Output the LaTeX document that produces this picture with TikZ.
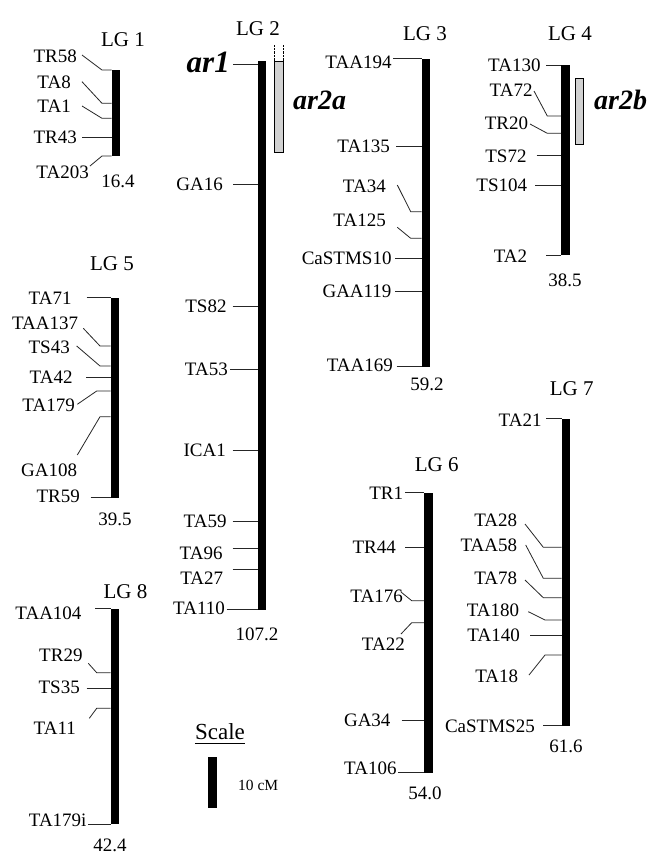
\documentclass[tikz,border=0pt]{standalone}
\usepackage{fontspec}
\setmainfont{Liberation Serif}
\begin{document}
\begin{tikzpicture}[x=1pt,y=-1pt,
 lbl/.style={anchor=east,inner sep=0pt,font=\fontsize{19}{20}\selectfont},
 ttl/.style={inner sep=0pt,font=\fontsize{21}{22}\selectfont},
 len/.style={inner sep=0pt,font=\fontsize{19}{20}\selectfont},
 bar/.style={fill=black,draw=none,inner sep=0pt,minimum width=8.5pt,anchor=north west},
 mk/.style={line width=0.8pt,black!85},
 qtl/.style={draw=black,line width=0.6pt,fill=black!18,inner sep=0pt,minimum width=8.5pt,anchor=north west},
 qlbl/.style={inner sep=0pt,font=\fontsize{28}{30}\selectfont\bfseries\itshape}]
\useasboundingbox[fill=white] (0,0) rectangle (658,860);

% ---------- LG 1 ----------
\node[ttl] (t1) at (123,40) {LG 1};
\node[bar,minimum height=86.5pt] (b1) at (111.5,69.5) {};
\node[lbl] (m1a) at (77,56.7) {TR58};
\node[lbl] (m1b) at (71,82.7) {TA8};
\node[lbl] (m1c) at (71,106) {TA1};
\node[lbl] (m1d) at (77,137.7) {TR43};
\node[lbl] (m1e) at (89,172.7) {TA203};
\node[len] (l1) at (118,181.7) {16.4};
\draw[mk] (82,55) -- (102,70) -- (b1.west |- 0,70);
\draw[mk] (82,81.7) -- (102,103.3) -- (b1.west |- 0,103.3);
\draw[mk] (82,106) -- (102,118.3) -- (b1.west |- 0,118.3);
\draw[mk] (82,137.7) -- (b1.west |- 0,137.7);
\draw[mk] (90,166) -- (102,156) -- (b1.west |- 0,156);

% ---------- LG 2 ----------
\node[ttl] (t2) at (258,29) {LG 2};
\node[bar,minimum height=549.3pt] (b2) at (257.5,60.7) {};
\node[qlbl,anchor=east,font=\fontsize{31}{32}\selectfont\bfseries\itshape] (ar1) at (230,62) {ar1};
\draw[mk] (233,64.3) -- (b2.west |- 0,64.3);
\node[qtl,minimum height=91.3pt] (q2a) at (274,60.7) {};
\draw[densely dotted,line width=0.4pt] (q2a.north west) -- ++(0,-15.7);
\draw[densely dotted,line width=0.4pt] (q2a.north east) -- ++(0,-15.7);
\node[qlbl,anchor=west] (ar2a) at (293,100) {ar2a};
\node[lbl] (m2a) at (223,184) {GA16};
\node[lbl] (m2b) at (226.7,306) {TS82};
\node[lbl] (m2c) at (228,369) {TA53};
\node[lbl] (m2d) at (226,450.7) {ICA1};
\node[lbl] (m2e) at (226.7,521.7) {TA59};
\node[lbl] (m2f) at (222.7,553) {TA96};
\node[lbl] (m2g) at (223.3,578) {TA27};
\node[lbl] (m2h) at (225,608) {TA110};
\node[len] (l2) at (257,634) {107.2};
\draw[mk] (233,184) -- (b2.west |- 0,184);
\draw[mk] (232.7,306) -- (b2.west |- 0,306);
\draw[mk] (230,369) -- (b2.west |- 0,369);
\draw[mk] (232.7,450.7) -- (b2.west |- 0,450.7);
\draw[mk] (232.7,521.7) -- (b2.west |- 0,521.7);
\draw[mk] (232.7,548.3) -- (b2.west |- 0,548.3);
\draw[mk] (232.7,569.3) -- (b2.west |- 0,569.3);
\draw[mk] (226.7,609.3) -- (b2.west |- 0,609.3);

% ---------- LG 3 ----------
\node[ttl] (t3) at (425,34) {LG 3};
\node[bar,minimum height=308.4pt] (b3) at (421.7,58.3) {};
\node[lbl] (m3a) at (391.7,62) {TAA194};
\node[lbl] (m3b) at (390,146) {TA135};
\node[lbl] (m3c) at (386,186) {TA34};
\node[lbl] (m3d) at (386,220) {TA125};
\node[lbl] (m3e) at (391.7,258.3) {CaSTMS10};
\node[lbl] (m3f) at (391.7,291.7) {GAA119};
\node[lbl] (m3g) at (393,365) {TAA169};
\node[len] (l3) at (427,384) {59.2};
\draw[mk] (393.3,58.3) -- (b3.west |- 0,58.3);
\draw[mk] (396,146) -- (b3.west |- 0,146);
\draw[mk] (397.3,185) -- (410.7,211.7) -- (b3.west |- 0,211.7);
\draw[mk] (397.3,227.3) -- (410.7,238.3) -- (b3.west |- 0,238.3);
\draw[mk] (395,258.3) -- (b3.west |- 0,258.3);
\draw[mk] (395,291.7) -- (b3.west |- 0,291.7);
\draw[mk] (396.7,366.7) -- (b3.west |- 0,366.7);

% ---------- LG 4 ----------
\node[ttl] (t4) at (570,34) {LG 4};
\node[bar,minimum height=190pt] (b4) at (561,65) {};
\node[qtl,minimum height=66.3pt] (q2b) at (574.5,77.7) {};
\node[qlbl,anchor=west] (ar2b) at (594,100) {ar2b};
\node[lbl] (m4a) at (540.7,65) {TA130};
\node[lbl] (m4b) at (532.7,90) {TA72};
\node[lbl] (m4c) at (528.3,123.3) {TR20};
\node[lbl] (m4d) at (526.7,156.7) {TS72};
\node[lbl] (m4e) at (527.3,185) {TS104};
\node[lbl] (m4f) at (527.3,256.7) {TA2};
\node[len] (l4) at (565,280) {38.5};
\draw[mk] (546,65) -- (b4.west |- 0,65);
\draw[mk] (534,91) -- (547.3,116) -- (b4.west |- 0,116);
\draw[mk] (530,124) -- (547.3,133.3) -- (b4.west |- 0,133.3);
\draw[mk] (536.7,155) -- (b4.west |- 0,155);
\draw[mk] (535,185) -- (b4.west |- 0,185);
\draw[mk] (546,255) -- (b4.west |- 0,255);

% ---------- LG 5 ----------
\node[ttl] (t5) at (112,263.3) {LG 5};
\node[bar,minimum height=200pt] (b5) at (110.5,297.3) {};
\node[lbl] (m5a) at (71.7,298.3) {TA71};
\node[lbl] (m5b) at (78.3,323.3) {TAA137};
\node[lbl] (m5c) at (70,347.3) {TS43};
\node[lbl] (m5d) at (72.7,377.7) {TA42};
\node[lbl] (m5e) at (75,405) {TA179};
\node[lbl] (m5f) at (77.3,470) {GA108};
\node[lbl] (m5g) at (80,496.7) {TR59};
\node[len] (l5) at (115,519) {39.5};
\draw[mk] (86.7,297.3) -- (b5.west |- 0,297.3);
\draw[mk] (83.3,328.3) -- (100,346) -- (b5.west |- 0,346);
\draw[mk] (76.7,346) -- (100,366) -- (b5.west |- 0,366);
\draw[mk] (86,377.7) -- (b5.west |- 0,377.7);
\draw[mk] (77.3,404.3) -- (96.7,391) -- (b5.west |- 0,391);
\draw[mk] (77.3,455) -- (100,416.7) -- (b5.west |- 0,416.7);
\draw[mk] (90.7,497.3) -- (b5.west |- 0,497.3);

% ---------- LG 6 ----------
\node[ttl] (t6) at (436.7,465) {LG 6};
\node[bar,minimum height=280pt] (b6) at (424,492.7) {};
\node[lbl] (m6a) at (403.3,493.3) {TR1};
\node[lbl] (m6b) at (396,547.3) {TR44};
\node[lbl] (m6c) at (403,596) {TA176};
\node[lbl] (m6d) at (405,644) {TA22};
\node[lbl] (m6e) at (390.7,720) {GA34};
\node[lbl] (m6f) at (396.7,768.3) {TA106};
\node[len] (l6) at (425,793) {54.0};
\draw[mk] (405,492.7) -- (b6.west |- 0,492.7);
\draw[mk] (405,547.3) -- (b6.west |- 0,547.3);
\draw[mk] (401,592) -- (411.7,600.7) -- (b6.west |- 0,600.7);
\draw[mk] (401,634) -- (411.7,622.7) -- (b6.west |- 0,622.7);
\draw[mk] (401.7,720.7) -- (b6.west |- 0,720.7);
\draw[mk] (398.3,772.7) -- (b6.west |- 0,772.7);

% ---------- LG 7 ----------
\node[ttl] (t7) at (571.7,388.3) {LG 7};
\node[bar,minimum height=307.7pt] (b7) at (561.7,418.3) {};
\node[lbl] (m7a) at (541.7,420) {TA21};
\node[lbl] (m7b) at (517.3,520.7) {TA28};
\node[lbl] (m7c) at (517.3,545) {TAA58};
\node[lbl] (m7d) at (517.3,578.3) {TA78};
\node[lbl] (m7e) at (519.3,610.7) {TA180};
\node[lbl] (m7f) at (520,635) {TA140};
\node[lbl] (m7g) at (518.3,676.7) {TA18};
\node[lbl] (m7h) at (535,726) {CaSTMS25};
\node[len] (l7) at (566,746) {61.6};
\draw[mk] (546,418.3) -- (b7.west |- 0,418.3);
\draw[mk] (525,524) -- (543.3,547.3) -- (b7.west |- 0,547.3);
\draw[mk] (525.7,545) -- (543.3,578.3) -- (b7.west |- 0,578.3);
\draw[mk] (525,580) -- (543.3,597.7) -- (b7.west |- 0,597.7);
\draw[mk] (528.3,611.7) -- (545,620) -- (b7.west |- 0,620);
\draw[mk] (530,635) -- (b7.west |- 0,635);
\draw[mk] (529,675) -- (545,655) -- (b7.west |- 0,655);
\draw[mk] (543.3,725.5) -- (b7.west |- 0,725.5);

% ---------- LG 8 ----------
\node[ttl] (t8) at (125.5,591.7) {LG 8};
\node[bar,minimum height=215.7pt] (b8) at (110.7,608.3) {};
\node[lbl] (m8a) at (81.7,613.3) {TAA104};
\node[lbl] (m8b) at (82.7,655) {TR29};
\node[lbl] (m8c) at (80,687.3) {TS35};
\node[lbl] (m8d) at (76,728.3) {TA11};
\node[lbl] (m8e) at (86.7,820) {TA179i};
\node[len] (l8) at (110,845) {42.4};
\draw[mk] (95,608.3) -- (b8.west |- 0,608.3);
\draw[mk] (88.3,663.3) -- (96.7,672.7) -- (b8.west |- 0,672.7);
\draw[mk] (86.7,688.3) -- (b8.west |- 0,688.3);
\draw[mk] (89.3,718.3) -- (96.7,708.3) -- (b8.west |- 0,708.3);
\draw[mk] (88,824) -- (b8.west |- 0,824);

% ---------- Scale ----------
\node[inner sep=0pt,font=\fontsize{23}{24}\selectfont,anchor=base] (sc) at (220,739) {Scale};
\draw[line width=1pt] ([yshift=-4pt]sc.base west) -- ([yshift=-4pt]sc.base east);
\node[bar,minimum height=51pt] (sb) at (208,757) {};
\node[inner sep=0pt,anchor=west,font=\fontsize{15.5}{16}\selectfont] (sl) at (238,785) {10 cM};
\end{tikzpicture}
\end{document}
